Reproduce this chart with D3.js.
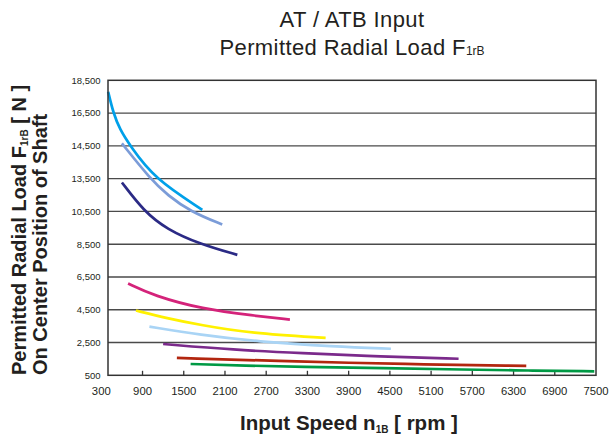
<!DOCTYPE html>
<html><head><meta charset="utf-8">
<script src="https://cdn.jsdelivr.net/npm/d3@7"></script>
<style>body{margin:0;background:#fff}svg{display:block}text{font-family:"Liberation Sans",Arial,Helvetica,sans-serif;fill:#231f20}</style>
</head><body><div id="chart"></div>
<script>
// Axis tick labels (the y axis is non-uniform: evenly spaced labels)
const xTicks = [300, 900, 1500, 2100, 2700, 3300, 3900, 4500, 5100, 5700, 6300, 6900, 7500];
const yTicks = [500, 2500, 4500, 6500, 8500, 10500, 13500, 14500, 16500, 18500];

// Series: [input speed rpm, permitted radial load N]
const cyan       = [[400,17800],[475,16500],[570,15500],[720,14500],[1070,13500],[1770,10650]];
const periwinkle = [[600,14650],[1010,13500],[1270,11950],[1595,10500],[2060,9700]];
const navy       = [[600,13150],[915,10550],[1255,9400],[1740,8500],[2280,7850]];
const magenta    = [[690,6100],[1060,5360],[1770,4540],[2520,4140],[3045,3900]];
const yellow     = [[805,4450],[1255,3980],[1740,3570],[2470,3060],[3565,2780]];
const skyblue    = [[1000,3470],[1740,2960],[2570,2560],[3690,2250],[4515,2120]];
const purple     = [[1200,2410],[2230,2050],[3200,1850],[4370,1640],[5500,1510]];
const darkred    = [[1400,1560],[3200,1330],[4660,1190],[6485,1070]];
const green      = [[1600,1190],[2400,1090],[3200,1010],[4400,940],[5600,850],[6500,790],[7475,745]];

const seriesList = [cyan, periwinkle, navy, magenta, yellow, skyblue, purple, darkred, green];
const colors = ["#00a0e9","#7b9cd8","#2b2a85","#d4237a","#fff100","#a9d4f5","#7b2a8b","#b2260f","#009944"];

(function(){
const W = 609, H = 439;
const pL = 108, pR = 596, pT = 80.3, pB = 375.3;
const svg = d3.select("#chart").append("svg").attr("width", W).attr("height", H);

const x = d3.scaleLinear().domain([300, 7500]).range([101.3, pR]);
const step = (pB - pT) / (yTicks.length - 1);
const y = d3.scaleLinear().domain(yTicks).range(yTicks.map((d, i) => pB - i * step));

// Grid lines
svg.append("g").selectAll("line").data(yTicks.slice(1, -1)).join("line")
  .attr("x1", pL).attr("x2", pR)
  .attr("y1", d => y(d)).attr("y2", d => y(d))
  .attr("stroke", "#4a4a4a").attr("stroke-width", 1.4);

// Y tick labels
svg.append("g").selectAll("text").data(yTicks).join("text")
  .attr("x", 100.5).attr("y", d => y(d)).attr("dy", "0.35em")
  .attr("text-anchor", "end").attr("font-size", "9.5px")
  .text(d => d3.format(",")(d));

// X tick marks (inside) and labels
svg.append("g").selectAll("line").data(xTicks.filter(d => x(d) > pL + 2 && x(d) < pR - 2)).join("line")
  .attr("x1", d => x(d)).attr("x2", d => x(d))
  .attr("y1", pB).attr("y2", pB - 4.5)
  .attr("stroke", "#333").attr("stroke-width", 1.3);
svg.append("g").selectAll("text").data(xTicks).join("text")
  .attr("x", d => x(d)).attr("y", 395)
  .attr("text-anchor", "middle").attr("font-size", "11.3px")
  .text(d => d);

// Curves
const line = d3.line().x(d => x(d[0])).y(d => y(d[1])).curve(d3.curveBasis);
svg.append("g").selectAll("path").data(seriesList).join("path")
  .attr("d", line).attr("fill", "none")
  .attr("stroke", (d, i) => colors[i]).attr("stroke-width", 2.7)
  .attr("stroke-linecap", "butt");

// Frame
svg.append("rect").attr("x", pL).attr("y", pT)
  .attr("width", pR - pL).attr("height", pB - pT)
  .attr("fill", "none").attr("stroke", "#333").attr("stroke-width", 1.5);

// Title
svg.append("text").attr("x", 352).attr("y", 27).attr("text-anchor", "middle")
  .attr("font-size", "22px").attr("letter-spacing", "0.4px").text("AT / ATB Input");
const t2 = svg.append("text").attr("x", 352).attr("y", 54.5).attr("text-anchor", "middle")
  .attr("font-size", "22px").attr("letter-spacing", "0.4px");
t2.append("tspan").text("Permitted Radial Load F");
t2.append("tspan").attr("font-size", "12px").attr("letter-spacing", "0px").attr("dy", 0.5).text("1rB");

// Y axis title
const yt1 = svg.append("text").attr("transform", "translate(25.5,375) rotate(-90)")
  .attr("font-size", "20px").attr("font-weight", "bold");
yt1.append("tspan").text("Permitted Radial Load F");
yt1.append("tspan").attr("font-size", "10px").attr("dy", 2).text("1rB");
yt1.append("tspan").attr("dy", -2).text(" [ N ]");
svg.append("text").attr("transform", "translate(46.5,375) rotate(-90)")
  .attr("font-size", "20px").attr("font-weight", "bold")
  .text("On Center Position of Shaft");

// X axis title
const xt = svg.append("text").attr("x", 349).attr("y", 430).attr("text-anchor", "middle")
  .attr("font-size", "20.5px").attr("font-weight", "bold");
xt.append("tspan").text("Input Speed n");
xt.append("tspan").attr("font-size", "10px").attr("dy", 3).text("1B");
xt.append("tspan").attr("dy", -3).text(" [ rpm ]");
})();
</script></body></html>
